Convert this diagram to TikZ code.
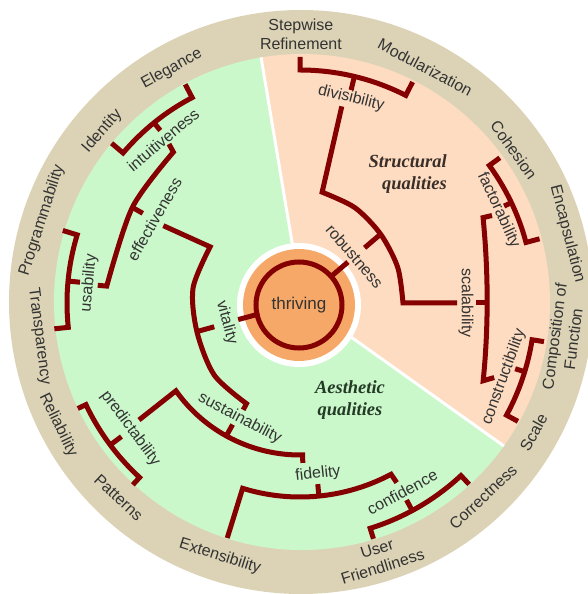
\documentclass[tikz,border=0pt]{standalone}
\usepackage{fontspec}
\setmainfont{Liberation Sans}
\newfontfamily\headfont{Liberation Serif}
\definecolor{bandtan}{HTML}{DCD3B6}
\definecolor{mint}{HTML}{CBF8CB}
\definecolor{peach}{HTML}{FDDCC1}
\definecolor{coreorange}{HTML}{F6A868}
\definecolor{treered}{HTML}{850000}
\definecolor{inkgray}{HTML}{333333}
\definecolor{structink}{HTML}{3A2E28}
\definecolor{aesthink}{HTML}{243A26}
\begin{document}
\begin{tikzpicture}[x=1pt,y=1pt,
  branch/.style={draw=treered,line width=5pt,line join=miter,line cap=butt},
  lbl/.style={text=inkgray,font=\fontsize{16}{19}\selectfont,inner sep=0pt,align=center},
  heading/.style={font=\headfont\bfseries\itshape\fontsize{18.5}{22}\selectfont,inner sep=0pt},
]
\useasboundingbox (-300,-291) rectangle (287,303);

% outer band and the two quality sectors
\fill[bandtan] (1,1) circle[radius=292];
\fill[peach] (2,1) -- ++(-35.5:248) arc[start angle=-35.5,end angle=99.5,radius=248] -- cycle;
\fill[mint] (2,1) -- ++(99.5:248) arc[start angle=99.5,end angle=324.5,radius=248] -- cycle;
\draw[white,line width=3pt] (2,1) -- ++(99.5:248);
\draw[white,line width=3pt] (2,1) -- ++(-35.5:248);

% core
\fill[white] (-1,-2) circle[radius=62];
\fill[coreorange] (-1,-2) circle[radius=56];
\draw[treered,line width=5pt] (-1,-2) circle[radius=43];
\node[lbl,font=\fontsize{17}{20}\selectfont] (thriving) at (-1,-2) {thriving};

% headings
\node[heading,text=structink,anchor=east,align=right] (structural) at (147,129) {Structural\\qualities};
\node[heading,text=aesthink,align=center] (aesthetic) at (50,-97.5) {Aesthetic\\qualities};

% ---------- structural side ----------
\draw[branch] (40.5:42) -- (40.5:63);
\node[lbl,rotate=-49.5] (robustness) at (40.5:72) {robustness};
\draw[branch] (40.5:85) -- (40.5:106);
\draw[branch] (78:201) -- plot[smooth] coordinates {(78.7:113) (60:110) (40.5:106) (20:104) (0:103)} -- (0:157);

\node[lbl,rotate=-14] (divisibility) at (76:211) {divisibility};
\draw[branch] (76.5:219) -- (76.5:233);
\draw[branch] (90:246) -- (90:233) arc[start angle=90,end angle=63,radius=233] -- (63:248);

\node[lbl,rotate=-90] (scalability) at (0:166) {scalability};
\draw[branch] (0:176) -- (0:187);
\draw[branch] (24.5:211) -- (25:202) .. controls (188.5,30) and (188.5,-25) .. (-23:199) -- (-21:208);

\node[lbl,rotate=-65] (factorability) at (25:219) {factorability};
\draw[branch] (25.4:226) -- (25.4:234);
\draw[branch] (36:247) -- (36:234) arc[start angle=36,end angle=15,radius=234] -- (15:248);

\node[lbl,rotate=70] (constructibility) at (-20:217) {constructibility};
\draw[branch] (-17:225) -- (-17:235);
\draw[branch] (-9:247) -- (-9:235) arc[start angle=-9,end angle=-28.5,radius=235] -- (-28.5:248);

% ---------- aesthetic side ----------
\draw[branch] (195:42) -- (195:64);
\node[lbl,rotate=-75] (vitality) at (195:76) {vitality};
\draw[branch] (195.5:89) -- (195.5:107);
\draw[branch] (150.5:157) -- plot[smooth] coordinates {(148:106) (172:108) (195.5:107) (220:112) (242:114)} -- (242:121);

\node[lbl,rotate=60] (effectiveness) at (150:168) {effectiveness};
\draw[branch] (150.3:181) -- (150.3:193);
\draw[branch] (129.5:206) -- plot[smooth] coordinates {(130:197) (150.3:193) (175:194)} -- (175:203);

\node[lbl,rotate=40] (intuitiveness) at (130:213) {intuitiveness};
\draw[branch] (129:222) -- (129:233);
\draw[branch] (117.7:247) -- (117.7:232) arc[start angle=117.7,end angle=139.7,radius=232] -- (139.7:247);

\node[lbl,rotate=84.6] (usability) at (174.6:212) {usability};
\draw[branch] (174.6:221) -- (174.6:233);
\draw[branch] (163:248) -- (163:233) arc[start angle=163,end angle=186,radius=233] -- (186:247);

\node[lbl,rotate=-27.6] (sustainability) at (242.4:130) {sustainability};
\draw[branch] (241:139) -- (241:152);
\draw[branch] (216:199) -- (215.3:152) arc[start angle=215.3,end angle=271,radius=152] -- (271:160);

\node[lbl,rotate=-53.5] (predictability) at (216.5:211) {predictability};
\draw[branch] (216.8:223) -- (216.8:237);
\draw[branch] (205.4:246) -- (205.4:237) arc[start angle=205.4,end angle=227.4,radius=237] -- (227.4:247);

\node[lbl,rotate=6] (fidelity) at (276:172) {fidelity};
\draw[branch] (275.6:182) -- (275.6:194);
\draw[branch] (252.8:246) -- (252.8:194) arc[start angle=252.8,end angle=298,radius=194] -- (298.3:204);

\node[lbl,rotate=28.4] (confidence) at (298.4:215) {confidence};
\draw[branch] (298.4:224) -- (298.4:236);
\draw[branch] (287.3:247) -- (287.3:236) arc[start angle=287.3,end angle=313,radius=236] -- (313:248);

% ---------- leaf qualities on the band ----------
\node[lbl] (stepwise) at (89.8:269) {Stepwise\\Refinement};
\node[lbl,rotate=-28] (modularization) at (62:267) {Modularization};
\node[lbl,rotate=-54.4] (cohesion) at (35.6:263) {Cohesion};
\node[lbl,rotate=-75.5] (encapsulation) at (14.5:276) {Encapsulation};
\node[lbl,rotate=82.5] (composition) at (-7.5:266) {Composition of\\Function};
\node[lbl,rotate=61] (scale) at (-29:267) {Scale};
\node[lbl,rotate=43.3] (correctness) at (313.3:267) {Correctness};
\node[lbl,rotate=17.4] (userfriendly) at (287.4:267) {User\\Friendliness};
\node[lbl,rotate=-17.5] (extensibility) at (252.5:266) {Extensibility};
\node[lbl,rotate=-43] (patterns) at (227:266) {Patterns};
\node[lbl,rotate=-64] (reliability) at (206.8:271) {Reliability};
\node[lbl,rotate=-82.7] (transparency) at (187.3:263) {Transparency};
\node[lbl,rotate=72.2] (programmability) at (162.2:271) {Programmability};
\node[lbl,rotate=49] (identity) at (139:262) {Identity};
\node[lbl,rotate=28.7] (elegance) at (118.7:267) {Elegance};
\end{tikzpicture}
\end{document}
